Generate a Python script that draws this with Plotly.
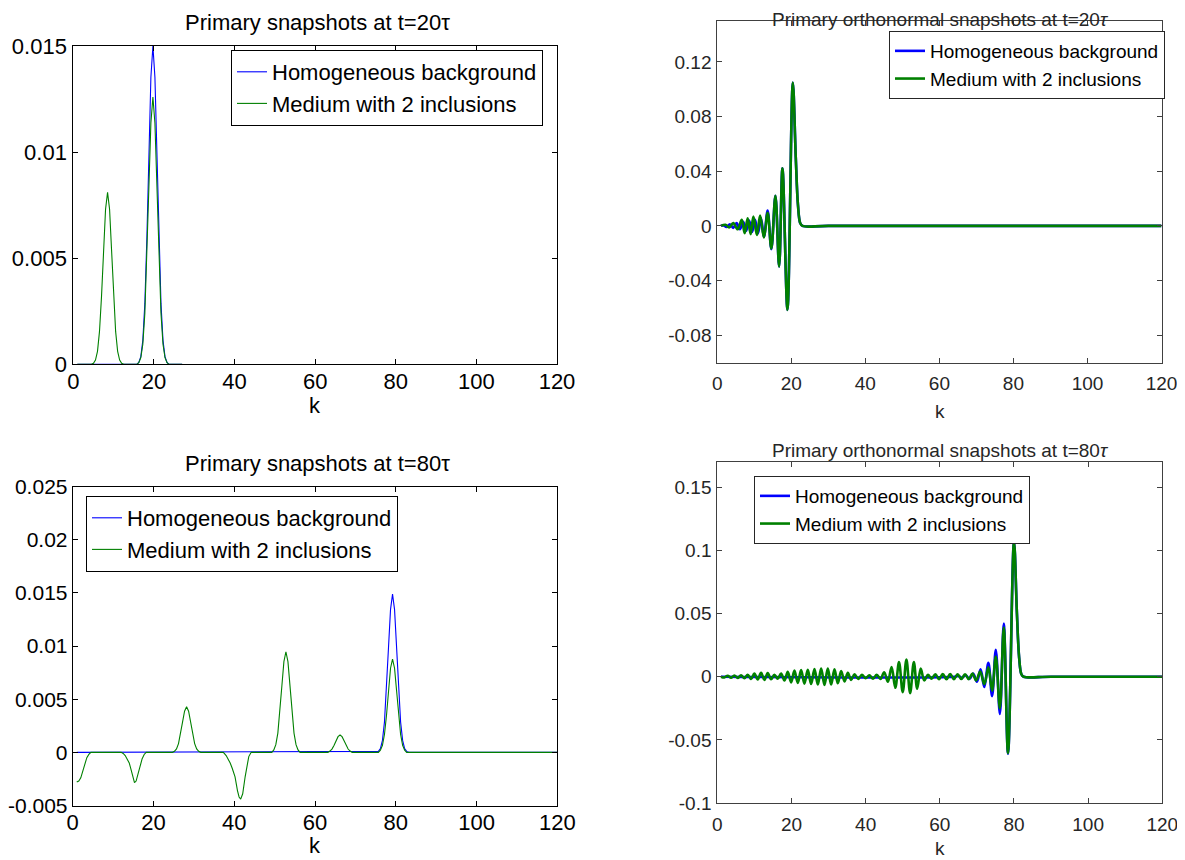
import plotly.graph_objects as go

# ---------------- DATA ----------------
x_ticks = [0, 20, 40, 60, 80, 100, 120]

# Top-left: Primary snapshots at t=20tau
tl_blue_k = [1, 15.75, 16.25, 16.75, 17.25, 17.75, 18.25, 18.75, 19.25, 19.75, 20.25, 20.75, 21.25,
             21.75, 22.25, 22.75, 23.25, 23.75, 27]
tl_blue_v = [0, 0, 0.00009, 0.00036, 0.00113, 0.00287, 0.00593, 0.00993, 0.01353, 0.0150, 0.01353,
             0.00993, 0.00593, 0.00287, 0.00113, 0.00036, 0.00009, 0, 0]
tl_green_k = [1, 4.5, 5, 5.5, 6, 6.5, 7, 7.5, 8, 8.5, 9, 9.5, 10, 10.5, 11, 11.5, 12, 12.5,
              15.75, 16.25, 16.75, 17.25, 17.75, 18.25, 18.75, 19.25, 19.75, 20.25, 20.75, 21.25,
              21.75, 22.25, 22.75, 23.25, 23.75, 27]
tl_green_v = [0, 0, 0.00005, 0.0002, 0.00061, 0.00155, 0.0032, 0.00536, 0.00731, 0.0081, 0.00731,
              0.00536, 0.0032, 0.00155, 0.00061, 0.0002, 0.00005, 0,
              0, 0.00008, 0.00031, 0.00095, 0.00241, 0.00498, 0.00834, 0.01137, 0.0126, 0.01137,
              0.00834, 0.00498, 0.00241, 0.00095, 0.00031, 0.00008, 0, 0]
tl_yticks = [0, 0.005, 0.01, 0.015]
tl_yticktext = ["0", "0.005", "0.01", "0.015"]

# Bottom-left: Primary snapshots at t=80tau
bl_blue_k = [1, 75.7, 76.2, 76.7, 77.2, 77.7, 78.2, 78.7, 79.2, 79.7, 80.2, 80.7, 81.2, 81.7,
             82.2, 82.7, 83.2, 120]
bl_blue_v = [0, 0.00009, 0.00036, 0.00112, 0.00284, 0.00588, 0.00985, 0.01342, 0.01488, 0.01342,
             0.00985, 0.00588, 0.00284, 0.00112, 0.00036, 0.00009, 0, 0]
bl_green_k = [1, 1.5, 2, 2.5, 3, 3.5, 4, 4.5,
              12, 12.5, 13, 13.5, 14, 14.5, 15, 15.3, 15.7, 16.2, 16.7, 17.2, 17.7, 18.2,
              24.7, 25.2, 25.7, 26.2, 26.7, 27.2, 27.7, 28.2, 28.7, 29.2, 29.7, 30.2, 30.7, 31.2, 31.7,
              37.3, 38, 38.5, 39, 39.5, 40.2, 40.8, 41.2, 41.6, 42.1, 42.7, 43.2, 43.6, 44.2,
              49.3, 49.8, 50.3, 50.8, 51.3, 51.8, 52.3, 52.8, 53.3, 53.8, 54.3, 54.8, 55.3, 55.8, 56.3,
              63.2, 63.7, 64.2, 64.7, 65.2, 65.7, 66.2, 66.7, 67.2, 67.7, 68.2, 68.7, 69.2,
              75.7, 76.2, 76.7, 77.2, 77.7, 78.2, 78.7, 79.2, 79.7, 80.2, 80.7, 81.2, 81.7, 82.2, 82.7,
              120]
bl_green_v = [-0.0028, -0.0027, -0.0024, -0.0018, -0.0011, -0.0005, -0.0002, 0,
              0, -0.0001, -0.0003, -0.0006, -0.0010, -0.0017, -0.0026, -0.00285, -0.0027, -0.0021,
              -0.0013, -0.0006, -0.0002, 0,
              0, 0.0001, 0.00032, 0.00082, 0.00169, 0.00284, 0.00387, 0.00429, 0.00387, 0.00284,
              0.00169, 0.00082, 0.00032, 0.0001, 0,
              0, -0.0003, -0.0006, -0.0010, -0.0015, -0.0023, -0.0036, -0.0042, -0.0044, -0.0039,
              -0.0023, -0.0011, -0.0004, 0,
              0, 0.00023, 0.00072, 0.00181, 0.00374, 0.00626, 0.00853, 0.00946, 0.00853, 0.00626,
              0.00374, 0.00181, 0.00072, 0.00023, 0,
              0, 0.00012, 0.00031, 0.00064, 0.00108, 0.00147, 0.00163, 0.00147, 0.00108, 0.00064,
              0.00031, 0.00012, 0,
              0, 0.00021, 0.00066, 0.00168, 0.00346, 0.00581, 0.00791, 0.00877, 0.00791, 0.00581,
              0.00346, 0.00168, 0.00066, 0.00021, 0,
              0]
bl_yticks = [-0.005, 0, 0.005, 0.01, 0.015, 0.02, 0.025]
bl_yticktext = ["-0.005", "0", "0.005", "0.01", "0.015", "0.02", "0.025"]

# Top-right: Primary orthonormal snapshots at t=20tau (extrema)
tr_blue_k = [1, 1.6, 2.5, 3.4, 4.3, 5.2, 6.1, 7.0, 7.8, 8.6, 9.4, 10.2, 11.0, 11.8, 12.6, 13.6,
             14.6, 15.7, 16.7, 17.6, 18.95, 20.4, 21.2, 21.8, 22.4, 23.0, 30, 120]
tr_blue_v = [0, 0.0005, -0.0008, 0.0012, -0.0015, 0.002, -0.0025, 0.003, -0.0035, 0.004, -0.0045,
             0.0045, -0.0055, 0.0058, -0.008, 0.0112,
             -0.017, 0.022, -0.0298, 0.0422, -0.0615, 0.105, 0.05, 0.015, 0.002, 0, 0, 0]
tr_green_k = [1, 2.2, 3.2, 4.3, 5.5, 6.6, 7.4, 8.2, 9.0, 9.75, 10.7, 11.56, 12.6, 13.6,
              14.6, 15.7, 16.7, 17.6, 18.95, 20.4, 21.2, 21.8, 22.4, 23.0, 30, 120]
tr_green_v = [0, 0.0008, -0.0012, 0.002, -0.0025, 0.0044, -0.0054, 0.0056, -0.006, 0.0068,
              -0.0066, 0.0075, -0.0085, 0.0095,
              -0.0165, 0.022, -0.0298, 0.0422, -0.0615, 0.105, 0.05, 0.015, 0.002, 0, 0, 0]
tr_yticks = [-0.08, -0.04, 0, 0.04, 0.08, 0.12]
tr_yticktext = ["-0.08", "-0.04", "0", "0.04", "0.08", "0.12"]

# Bottom-right: Primary orthonormal snapshots at t=80tau
br_blue_k = [1, 64, 65, 66, 67, 68, 69, 70, 71, 72, 73.1, 74.1, 75.1, 76.2, 77.25, 78.4, 80.0,
             80.8, 81.4, 82.0, 82.6, 90, 120]
br_blue_v = [0, 0, 0.0005, -0.0008, 0.0012, -0.0018, 0.0025, -0.004, 0.0058, -0.0082, 0.011,
             -0.0154, 0.0214, -0.0294, 0.042, -0.061, 0.1075, 0.05, 0.015, 0.002, 0, 0, 0]
br_green_k = [1, 1.9, 2.8, 3.7, 4.6, 5.5, 6.4, 7.3, 8.2, 9.1, 10.0, 10.9, 11.8, 12.7, 13.6, 14.5,
              15.4, 16.3, 17.2, 18.1, 19.0, 19.9, 20.8, 21.7, 22.6, 23.5, 24.4, 25.3, 26.2, 27.1,
              28.0, 28.9, 29.8, 30.7, 31.6, 32.5, 33.4, 34.3, 35.2, 36.1, 37.0, 38.0, 39.0, 40.0,
              41.0, 42.0, 43.0, 44.0, 45.0, 46.0, 47.0, 48.0, 49.0, 50.0, 51.0, 52.0, 53.0, 53.9,
              54.85, 55.8, 56.8, 57.8, 58.8, 59.8, 60.8, 61.8, 62.8, 63.8, 64.8, 65.8, 66.8, 67.8,
              68.8, 69.8, 70.9, 72.0, 73.1, 74.1, 75.1, 76.2, 77.25, 78.4, 80.0, 80.8, 81.4, 82.0,
              82.6, 90, 120]
br_green_v = [0, -0.0006, 0.0008, -0.0008, 0.001, -0.001, 0.0012, -0.0012, 0.0015, -0.0018,
              0.0025, -0.0022, 0.003, -0.0025, 0.0028, -0.002, 0.0015, -0.0015, 0.0025, -0.003,
              0.0038, -0.0045, 0.0048, -0.005, 0.0052, -0.0055, 0.0055, -0.0058, 0.006, -0.0062,
              0.0065, -0.0065, 0.0065, -0.0062, 0.0058, -0.0052, 0.0045, -0.0038, 0.003, -0.0025,
              0.002, -0.0018, 0.0015, -0.0012, 0.0012, -0.0015, 0.0015, -0.0018, 0.0035, -0.004,
              0.0076, -0.0088, 0.0116, -0.0122, 0.0135, -0.013, 0.0116, -0.0095, 0.0064, -0.003,
              0.0015, -0.0015, 0.002, -0.002, 0.0022, -0.002, 0.0022, -0.002, 0.002, -0.0018,
              0.002, -0.002, 0.0025, -0.003, 0.004, -0.006, 0.0075, -0.011, 0.016, -0.025, 0.039,
              -0.0605, 0.1075, 0.05, 0.015, 0.002, 0, 0, 0]
br_yticks = [-0.1, -0.05, 0, 0.05, 0.1, 0.15]
br_yticktext = ["-0.1", "-0.05", "0", "0.05", "0.1", "0.15"]

names = ["Homogeneous background", "Medium with 2 inclusions"]

# ---------------- FIGURE ----------------
OFF = 8                    # page body margin of the rendered html
W, H = 1185 - OFF, 860 - OFF
BLUE = "#0000FF"
GREEN = "#008000"
LFONT = "Liberation Sans, Arial, sans-serif"


def px_x(a):
    return (a - OFF) / W


def px_y(a):
    return 1 - (a - OFF) / H


def dx(a, b):
    return [px_x(a), px_x(b)]


def dy(top, bottom):
    return [px_y(bottom), px_y(top)]


fig = go.Figure()

panels = [
    (tl_blue_k, tl_blue_v, tl_green_k, tl_green_v, "", "legend", 1.1, "linear"),
    (tr_blue_k, tr_blue_v, tr_green_k, tr_green_v, "2", "legend2", 2.6, "spline"),
    (bl_blue_k, bl_blue_v, bl_green_k, bl_green_v, "3", "legend3", 1.1, "linear"),
    (br_blue_k, br_blue_v, br_green_k, br_green_v, "4", "legend4", 2.6, "spline"),
]
for bk, bv, gk, gv, sfx, leg, lw, shp in panels:
    fig.add_trace(go.Scatter(x=bk, y=bv, mode="lines", name=names[0],
                             line=dict(color=BLUE, width=lw, shape=shp),
                             xaxis="x" + sfx, yaxis="y" + sfx, legend=leg))
    fig.add_trace(go.Scatter(x=gk, y=gv, mode="lines", name=names[1],
                             line=dict(color=GREEN, width=lw, shape=shp),
                             xaxis="x" + sfx, yaxis="y" + sfx, legend=leg))


def xax(dom, anchor, fs, col, lcol, so):
    return dict(domain=dom, anchor=anchor, range=[0, 120], tickvals=x_ticks,
                ticktext=[str(t) for t in x_ticks], ticks="inside", ticklen=5,
                tickcolor=lcol, showline=True, linecolor=lcol, linewidth=1, mirror="ticks",
                showgrid=False, zeroline=False, tickfont=dict(size=fs, color=col, family=LFONT),
                ticklabelstandoff=so, automargin=False)


def yax(dom, anchor, rng, tv, tt, fs, col, lcol, so):
    return dict(domain=dom, anchor=anchor, range=rng, tickvals=tv, ticktext=tt,
                ticks="inside", ticklen=5, tickcolor=lcol, showline=True, linecolor=lcol,
                linewidth=1, mirror="ticks", showgrid=False, zeroline=False,
                tickfont=dict(size=fs, color=col, family=LFONT), ticklabelstandoff=so,
                automargin=False)


LCOL = "#000000"
RCOL = "#262626"
RLINE = "#404040"


def leg(xp, yp, fs, bc):
    return dict(x=px_x(xp), y=px_y(yp), xanchor="left", yanchor="top", bgcolor="white",
                bordercolor=bc, borderwidth=1, font=dict(size=fs, family=LFONT, color="black"),
                tracegroupgap=0)


fig.update_layout(
    width=W, height=H, margin=dict(l=0, r=0, t=0, b=0, autoexpand=False),
    paper_bgcolor="white", plot_bgcolor="white",
    font=dict(family=LFONT, color="black"),
    xaxis=xax(dx(73.3, 557), "y", 22, LCOL, LCOL, -3),
    yaxis=yax(dy(46, 364.3), "x", [0, 0.015], tl_yticks, tl_yticktext, 22, LCOL, LCOL, 1),
    xaxis2=xax(dx(717.3, 1161.5), "y2", 19, RCOL, RLINE, 4),
    yaxis2=yax(dy(21, 362.5), "x2", [-0.1, 0.15], tr_yticks, tr_yticktext, 19, RCOL, RLINE, 1),
    xaxis3=xax(dx(72.7, 557.3), "y3", 22, LCOL, LCOL, -3),
    yaxis3=yax(dy(486.5, 805.5), "x3", [-0.005, 0.025], bl_yticks, bl_yticktext, 21, LCOL, LCOL, 0),
    xaxis4=xax(dx(717.3, 1162.3), "y4", 19, RCOL, RLINE, 4),
    yaxis4=yax(dy(462, 803), "x4", [-0.1, 0.17], br_yticks, br_yticktext, 19, RCOL, RLINE, 1),
    legend=leg(231, 50, 22, "black"),
    legend2=leg(889, 31, 19, RCOL),
    legend3=leg(86, 496, 22, "black"),
    legend4=leg(754, 476, 19, RCOL),
    showlegend=True,
)

annots = [
    ("Primary snapshots at t=20τ", 317, 22, 22, "black"),
    ("Primary snapshots at t=80τ", 317, 464, 22, "black"),
    ("Primary orthonormal snapshots at t=20<i>τ</i>", 940, 20, 19, RCOL),
    ("Primary orthonormal snapshots at t=80<i>τ</i>", 940, 450, 19, RCOL),
    ("k", 315, 405, 22, "black"),
    ("k", 315, 845, 22, "black"),
    ("k", 940, 411, 19, RCOL),
    ("k", 940, 848, 19, RCOL),
]
for txt, px, py, fs, col in annots:
    fig.add_annotation(text=txt, x=px_x(px), y=px_y(py), xref="paper", yref="paper",
                       xanchor="center", yanchor="middle", showarrow=False,
                       font=dict(size=fs, color=col, family=LFONT))

fig.write_html("out.html")
